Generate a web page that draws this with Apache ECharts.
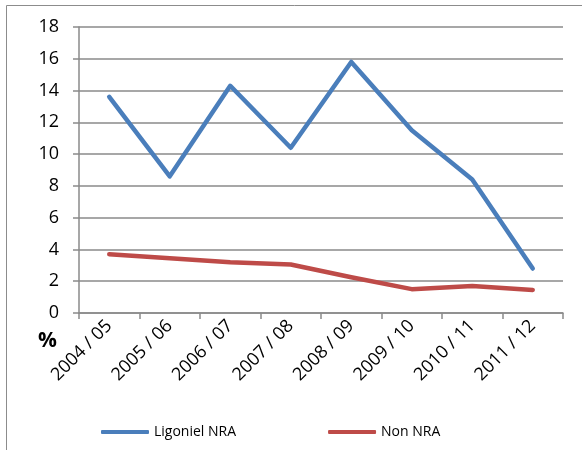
<!DOCTYPE html>
<html>
<head>
<meta charset="utf-8">
<script src="https://cdn.jsdelivr.net/npm/echarts@6/dist/echarts.min.js"></script>
<style>
	html, body { margin: 0; padding: 0; background: #fff; }
	#chart { width: 582px; height: 450px; }
</style>
</head>
<body>
<div id="chart"></div>
<script>
const years = ['2004 / 05', '2005 / 06', '2006 / 07', '2007 / 08', '2008 / 09', '2009 / 10', '2010 / 11', '2011 / 12']
const ligoniel = [13.6, 8.6, 14.3, 10.4, 15.8, 11.5, 8.4, 2.8]
const nonNra = [3.7, 3.45, 3.2, 3.05, 2.25, 1.5, 1.7, 1.45]

const font = '"Open Sans", "Noto Sans", sans-serif'
const gridColor = '#8a8a8a'

const chart = echarts.init(document.getElementById('chart'))
const option = {
	animation: false,
	textStyle: { fontFamily: font },
	graphic: [
		{
			type: 'rect',
			shape: { x: 6.5, y: 5.5, width: 700, height: 600 },
			style: { fill: 'none', stroke: '#8c8c8c', lineWidth: 1 }
		},
		{
			type: 'text',
			left: 38,
			top: 331,
			style: { text: '%', font: 'bold 21px ' + font, fill: '#000' }
		}
	],
	grid: {
		left: 79,
		top: 27,
		right: 19,
		bottom: 137
	},
	legend: {
		bottom: 6,
		left: 96,
		itemGap: 92,
		itemWidth: 48,
		itemHeight: 4,
		icon: 'roundRect',
		textStyle: { fontSize: 14, color: '#000', fontFamily: font },
		data: ['Ligoniel NRA', 'Non NRA']
	},
	xAxis: {
		type: 'category',
		data: years,
		boundaryGap: true,
		axisLine: { lineStyle: { color: gridColor, width: 1.5 } },
		axisTick: { show: true, length: 6, lineStyle: { color: gridColor, width: 1.5 } },
		axisLabel: {
			rotate: 45,
			color: '#000',
			fontSize: 18,
			fontFamily: font,
			margin: 10
		}
	},
	yAxis: {
		type: 'value',
		min: 0,
		max: 18,
		interval: 2,
		axisLine: { show: true, lineStyle: { color: gridColor, width: 1.5 } },
		axisTick: { show: true, length: 6, lineStyle: { color: gridColor, width: 1.5 } },
		axisLabel: { color: '#000', fontSize: 18, fontFamily: font, margin: 20 },
		splitLine: { lineStyle: { color: gridColor, width: 1.5 } }
	},
	series: [
		{
			name: 'Ligoniel NRA',
			type: 'line',
			data: ligoniel,
			symbol: 'none',
			lineStyle: { color: '#4a7ebb', width: 4.5, cap: 'round', join: 'round' },
			itemStyle: { color: '#4a7ebb' }
		},
		{
			name: 'Non NRA',
			type: 'line',
			data: nonNra,
			symbol: 'none',
			lineStyle: { color: '#be4b48', width: 4.5, cap: 'round', join: 'round' },
			itemStyle: { color: '#be4b48' }
		}
	]
}
chart.setOption(option)
</script>
</body>
</html>
